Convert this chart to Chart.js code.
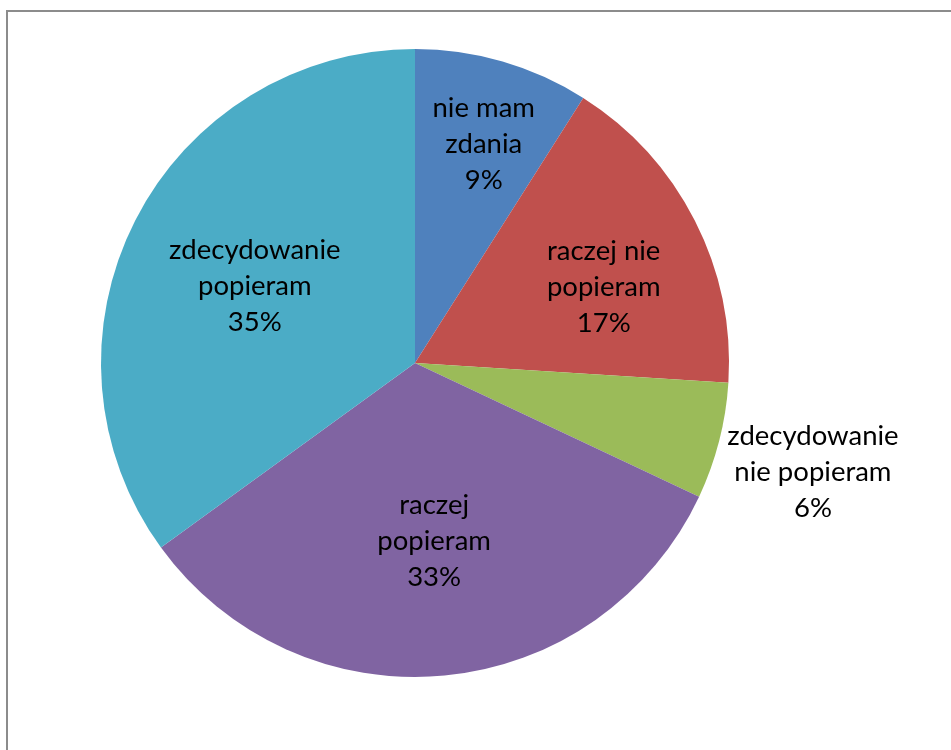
<!DOCTYPE html>
<html>
<head>
<meta charset="utf-8">
<script src="https://cdn.jsdelivr.net/npm/chart.js@4/dist/chart.umd.min.js"></script>
<style>
  html, body { margin: 0; padding: 0; background: #fff; }
  #wrap { position: relative; width: 951px; height: 750px; overflow: hidden; }
  #frame { position: absolute; left: 6px; top: 10px; width: 960px; height: 760px;
           border: 2px solid #8c8c8c; box-sizing: border-box; }
  canvas { position: absolute; left: 0; top: 0; }
</style>
</head>
<body>
<div id="wrap">
  <div id="frame"></div>
  <canvas id="c" width="951" height="750"></canvas>
</div>
<script>
// Survey answers, in clockwise order starting at twelve o'clock
const categories = [
  ['nie mam', 'zdania'],
  ['raczej nie', 'popieram'],
  ['zdecydowanie', 'nie popieram'],
  ['raczej', 'popieram'],
  ['zdecydowanie', 'popieram']
];
const shares = [9, 17, 6, 33, 35];
const sliceColors = ['#4F81BD', '#C0504D', '#9BBB59', '#8064A2', '#4BACC6'];

// Data label placement: fraction of the radius (>1 means outside the pie)
// and an angular nudge in degrees away from the slice's middle
const labelRadius = [0.736, 0.65, 1.312, 0.564, 0.569];
const labelNudge = [1.1, 4.6, 0.6, -0.8, -0.7];

const FONT = '27.5px Lato, "Open Sans", sans-serif';
const LINE_H = 36;

const sliceLabels = {
  id: 'sliceLabels',
  afterDatasetsDraw(chart) {
    const ctx = chart.ctx;
    const meta = chart.getDatasetMeta(0);
    ctx.save();
    ctx.font = FONT;
    ctx.fillStyle = '#000';
    ctx.textAlign = 'center';
    ctx.textBaseline = 'middle';
    meta.data.forEach((arc, i) => {
      const mid = (arc.startAngle + arc.endAngle) / 2 + labelNudge[i] * Math.PI / 180;
      const r = arc.outerRadius * labelRadius[i];
      const cx = arc.x + Math.cos(mid) * r;
      const cy = arc.y + Math.sin(mid) * r + 2;
      const lines = categories[i].concat([shares[i] + '%']);
      const top = cy - (lines.length - 1) * LINE_H / 2;
      lines.forEach((t, k) => ctx.fillText(t, cx, top + k * LINE_H));
    });
    ctx.restore();
  }
};

new Chart(document.getElementById('c'), {
  type: 'pie',
  data: {
    labels: categories.map(c => c.join(' ')),
    datasets: [{
      data: shares,
      backgroundColor: sliceColors,
      borderWidth: 0
    }]
  },
  options: {
    responsive: false,
    animation: false,
    layout: { padding: { left: 101, right: 222, top: 49, bottom: 73 } },
    plugins: {
      legend: { display: false },
      tooltip: { enabled: false }
    }
  },
  plugins: [sliceLabels]
});
</script>
</body>
</html>
